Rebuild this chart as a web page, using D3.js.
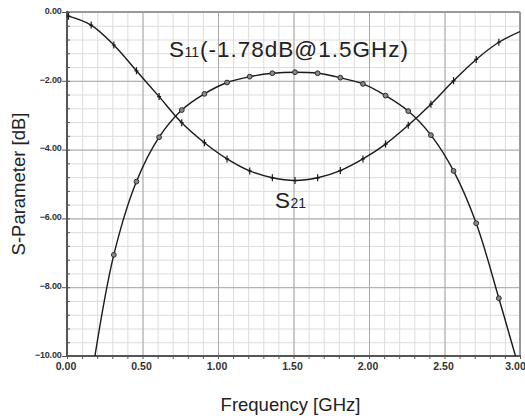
<!DOCTYPE html>
<html><head><meta charset="utf-8">
<script src="https://cdn.jsdelivr.net/npm/d3@7"></script>
<style>body{margin:0;background:#fff}svg{display:block}</style>
</head><body>
<svg id="c" width="525" height="418"></svg>
<script>
// ---- data ----
const freqTicks = [0, 0.5, 1.0, 1.5, 2.0, 2.5, 3.0];
const dbTicks = [0, -2, -4, -6, -8, -10];
const freqDomain = [0, 3];
const dbDomain = [-10, 0];

// S21 (marked with +)
const s21Freq = [0.01,0.16,0.31,0.46,0.61,0.76,0.91,1.06,1.21,1.36,1.51,1.66,1.81,1.96,2.11,2.26,2.41,2.56,2.71,2.86];
const s21Db   = [-0.12,-0.38,-0.96,-1.71,-2.46,-3.22,-3.80,-4.27,-4.62,-4.82,-4.90,-4.82,-4.61,-4.27,-3.84,-3.29,-2.68,-2.00,-1.38,-0.88];
const s21EndFreq = 3.00, s21EndDb = -0.57;

// S11 (marked with o)
const s11Freq = [0.31,0.46,0.61,0.76,0.91,1.06,1.21,1.36,1.51,1.66,1.81,1.96,2.11,2.26,2.41,2.56,2.71,2.86];
const s11Db   = [-7.06,-4.93,-3.64,-2.85,-2.38,-2.05,-1.88,-1.78,-1.75,-1.78,-1.91,-2.09,-2.43,-2.88,-3.58,-4.62,-6.14,-8.32];
const s11StartFreq = 0.185, s11StartDb = -10.0;
const s11EndFreq = 2.97, s11EndDb = -10.0;

const xTitle = "Frequency [GHz]";
const yTitle = "S-Parameter [dB]";

// ---- layout ----
const L = 67, R = 520, T = 12, B = 356;
const svg = d3.select("#c");
const x = d3.scaleLinear().domain(freqDomain).range([L, R]);
const y = d3.scaleLinear().domain(dbDomain).range([B, T]);

const minorX = d3.range(0, 31).map(i => i / 10);
const minorY = d3.range(0, 26).map(i => -i * 0.4);

// minor grid
svg.append("g").attr("transform", `translate(0,${B})`)
  .call(d3.axisBottom(x).tickValues(minorX).tickSize(-(B - T)).tickFormat(""))
  .call(g => { g.select(".domain").remove(); g.selectAll("line").attr("stroke", "#dcdcdc"); });
svg.append("g").attr("transform", `translate(${L},0)`)
  .call(d3.axisLeft(y).tickValues(minorY).tickSize(-(R - L)).tickFormat(""))
  .call(g => { g.select(".domain").remove(); g.selectAll("line").attr("stroke", "#dcdcdc"); });
// major grid
svg.append("g").attr("transform", `translate(0,${B})`)
  .call(d3.axisBottom(x).tickValues(freqTicks).tickSize(-(B - T)).tickFormat(""))
  .call(g => { g.select(".domain").remove(); g.selectAll("line").attr("stroke", "#a8a8a8"); });
svg.append("g").attr("transform", `translate(${L},0)`)
  .call(d3.axisLeft(y).tickValues(dbTicks).tickSize(-(R - L)).tickFormat(""))
  .call(g => { g.select(".domain").remove(); g.selectAll("line").attr("stroke", "#a8a8a8"); });

// frame top/right
svg.append("line").attr("x1", L).attr("x2", R).attr("y1", T).attr("y2", T).attr("stroke", "#999").attr("stroke-width", 2);
svg.append("line").attr("x1", R).attr("x2", R).attr("y1", T).attr("y2", B).attr("stroke", "#999").attr("stroke-width", 2);

// minor ticks
svg.append("g").attr("transform", `translate(0,${B})`)
  .call(d3.axisBottom(x).tickValues(minorX).tickSize(3).tickFormat(""))
  .call(g => { g.select(".domain").remove(); g.selectAll("line").attr("stroke", "#555"); });
svg.append("g").attr("transform", `translate(${L},0)`)
  .call(d3.axisRight(y).tickValues(minorY).tickSize(3).tickFormat(""))
  .call(g => { g.select(".domain").remove(); g.selectAll("line").attr("stroke", "#555"); });

// tick labels
const fmt = d3.format(".2f");
const xa = svg.append("g").attr("transform", `translate(0,${B})`)
  .call(d3.axisBottom(x).tickValues(freqTicks).tickSize(0).tickPadding(0).tickFormat(fmt));
xa.select(".domain").remove();
xa.selectAll("text").attr("y", 13.5).attr("dy", 0)
  .attr("dx", d => d === freqDomain[1] ? -5 : -1.5)
  .attr("font-family", "'Liberation Sans Narrow','Arial Narrow','Liberation Sans',Arial,sans-serif")
  .attr("font-weight", "bold").attr("font-size", "10.5px").attr("fill", "#333");

const ya = svg.append("g").attr("transform", `translate(${L},0)`)
  .call(d3.axisLeft(y).tickValues(dbTicks).tickSize(5).tickPadding(0).tickFormat(fmt));
ya.select(".domain").remove();
ya.selectAll("line").attr("stroke", "#555");
ya.selectAll("text").attr("x", -5.5).attr("dy", "1.3px")
  .attr("font-family", "'Liberation Sans',Arial,sans-serif")
  .attr("font-weight", "bold").attr("font-size", "9px").attr("fill", "#333")
  .attr("letter-spacing", "-0.2px");

// axes left/bottom
svg.append("line").attr("x1", L).attr("x2", L).attr("y1", T - 1).attr("y2", B + 1).attr("stroke", "#555").attr("stroke-width", 2);
svg.append("line").attr("x1", L - 1).attr("x2", R + 1).attr("y1", B).attr("y2", B).attr("stroke", "#555").attr("stroke-width", 2);

// clip
svg.append("clipPath").attr("id", "clip").append("rect")
  .attr("x", L).attr("y", T).attr("width", R - L).attr("height", B - T);

const line = d3.line().x(d => x(d[0])).y(d => y(d[1])).curve(d3.curveCatmullRom.alpha(0.5));

const s21Pts = s21Freq.map((f, i) => [f, s21Db[i]]);
const s11Pts = s11Freq.map((f, i) => [f, s11Db[i]]);
const s21Line = [...s21Pts, [s21EndFreq, s21EndDb]];
const s11Line = [[s11StartFreq, s11StartDb], ...s11Pts, [s11EndFreq, s11EndDb]];

const curves = svg.append("g").attr("clip-path", "url(#clip)");
curves.append("path").datum(s21Line).attr("d", line)
  .attr("fill", "none").attr("stroke", "#1a1a1a").attr("stroke-width", 1.4);
curves.append("path").datum(s11Line).attr("d", line)
  .attr("fill", "none").attr("stroke", "#1a1a1a").attr("stroke-width", 1.4);

// markers
svg.append("g").selectAll("path").data(s21Pts).join("path")
  .attr("d", d => `M${x(d[0])},${y(d[1]) - 3.5}V${y(d[1]) + 3.5}M${x(d[0]) - 2},${y(d[1])}H${x(d[0]) + 2}`)
  .attr("stroke", "#1a1a1a").attr("stroke-width", 1.2).attr("fill", "none");
svg.append("g").selectAll("circle").data(s11Pts).join("circle")
  .attr("cx", d => x(d[0])).attr("cy", d => y(d[1])).attr("r", 2.4)
  .attr("fill", "#8a8a8a").attr("stroke", "#2a2a2a").attr("stroke-width", 1);

// curve labels
const lab = (tx, ty, main, sub, rest) => {
  const t = svg.append("text").attr("x", tx).attr("y", ty)
    .attr("font-family", "'Liberation Sans',Arial,sans-serif").attr("fill", "#222")
    .attr("font-size", "22.5px");
  t.append("tspan").text(main);
  t.append("tspan").attr("font-size", "14px").attr("dx", 0.5).text(sub);
  if (rest) t.append("tspan").attr("letter-spacing", "1px").attr("dx", 1).text(rest);
};
lab(169, 57, "S", "11", "(-1.78dB@1.5GHz)");
lab(275, 208, "S", "21", null);

// axis titles
svg.append("text").attr("x", (L + R) / 2 - 3).attr("y", 410.5).attr("text-anchor", "middle")
  .attr("font-family", "'Liberation Sans',Arial,sans-serif").attr("font-size", "18.5px").attr("fill", "#222")
  .text(xTitle);
svg.append("text").attr("transform", `translate(25,${(T + B) / 2}) rotate(-90)`).attr("text-anchor", "middle")
  .attr("font-family", "'Liberation Sans',Arial,sans-serif").attr("font-size", "18.5px").attr("fill", "#222")
  .text(yTitle);
</script>
</body></html>
